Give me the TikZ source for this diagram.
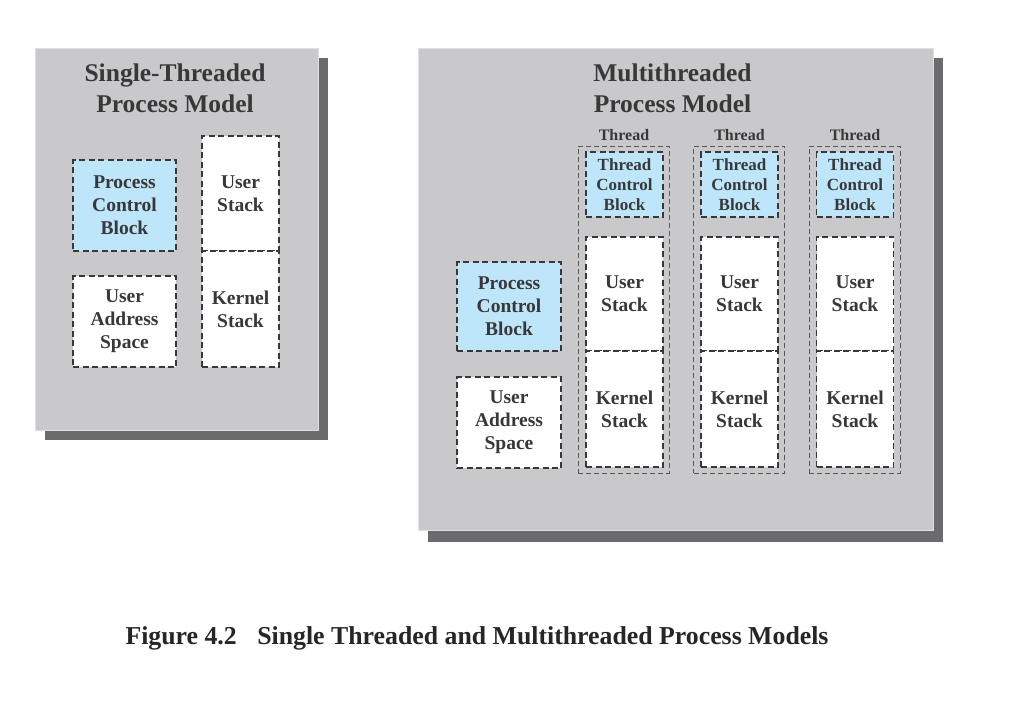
\documentclass[tikz,border=0pt]{standalone}
\usepackage{fontspec}
\setmainfont{Liberation Serif}
\usetikzlibrary{positioning}
\definecolor{panelgray}{HTML}{C9C9CB}
\definecolor{shadowgray}{HTML}{6B6B6D}
\definecolor{pcbblue}{HTML}{BEE6FA}
\definecolor{inkgray}{HTML}{383838}

\begin{document}
\begin{tikzpicture}[x=1pt,y=-1pt,
  every node/.style={text=inkgray,inner sep=0pt,outer sep=0pt},
  panel/.style={fill=panelgray,draw=panelgray!60!white,line width=.6pt},
  shade/.style={fill=shadowgray},
  title/.style={font=\fontsize{25.5}{31}\selectfont\bfseries,align=center},
  box/.style={draw=inkgray,line width=1.2pt,dash pattern=on 6pt off 3.5pt,fill=white,
    align=center,font=\fontsize{19.5}{23}\selectfont\bfseries},
  blue/.style={box,fill=pcbblue},
  tcb/.style={blue,font=\fontsize{17}{20}\selectfont\bfseries},
  threadbox/.style={draw=inkgray!85,line width=.9pt,dash pattern=on 5pt off 3pt},
  threadlabel/.style={font=\fontsize{16}{18}\selectfont\bfseries}]
\useasboundingbox (0,0) rectangle (1012,701);

% single-threaded panel
\fill[shade] (45,58) rectangle (328,440);
\node[panel,minimum width=283,minimum height=382] (single) at (176.5,239) {};
\node[title] (stitle) at (175,88) {Single-Threaded\\Process Model};
\node[blue,minimum width=103,minimum height=91] (spcb) at (124.5,205.5) {Process\\Control\\Block};
\node[box,minimum width=103,minimum height=91] (suas) at (124.5,321.5) {User\\Address\\Space};
\node[box,minimum width=77,minimum height=115] (sus) at (240.5,193.5) {User\\Stack};
\node[box,minimum width=77,minimum height=116] (sks) at (240.5,309) {Kernel\\Stack};

% multithreaded panel
\fill[shade] (428,58) rectangle (943,542);
\node[panel,minimum width=515,minimum height=482] (multi) at (675.5,289) {};
\node[title] (mtitle) at (672.5,88) {Multithreaded\\Process Model};
\node[blue,minimum width=104,minimum height=89] (mpcb) at (509,306.5) {Process\\Control\\Block};
\node[box,minimum width=104,minimum height=91] (muas) at (509,422.5) {User\\Address\\Space};

% thread 1
\node[threadbox,minimum width=91,minimum height=327] (t1) at (623.5,309.5) {};
\node[threadlabel] (t1lab) at (624,135) {Thread};
\node[tcb,minimum width=77,minimum height=65] (t1tcb) at (624.5,184.5) {Thread\\Control\\Block};
\node[box,minimum width=77,minimum height=114] (t1us) at (624.5,294) {User\\Stack};
\node[box,minimum width=77,minimum height=116] (t1ks) at (624.5,409) {Kernel\\Stack};

% thread 2
\node[threadbox,minimum width=91,minimum height=327] (t2) at (739,309.5) {};
\node[threadlabel] (t2lab) at (739.5,135) {Thread};
\node[tcb,minimum width=77,minimum height=65] (t2tcb) at (739.5,184.5) {Thread\\Control\\Block};
\node[box,minimum width=77,minimum height=114] (t2us) at (739.5,294) {User\\Stack};
\node[box,minimum width=77,minimum height=116] (t2ks) at (739.5,409) {Kernel\\Stack};

% thread 3
\node[threadbox,minimum width=91,minimum height=327] (t3) at (854.5,309.5) {};
\node[threadlabel] (t3lab) at (855,135) {Thread};
\node[tcb,minimum width=77,minimum height=65] (t3tcb) at (855,184.5) {Thread\\Control\\Block};
\node[box,minimum width=77,minimum height=114] (t3us) at (855,294) {User\\Stack};
\node[box,minimum width=77,minimum height=116] (t3ks) at (855,409) {Kernel\\Stack};

% caption
\node[font=\fontsize{25.8}{30}\selectfont\bfseries,text=black!85] (caption) at (477,638)
  {Figure 4.2\hspace{14pt} Single Threaded and Multithreaded Process Models};
\end{tikzpicture}
\end{document}
